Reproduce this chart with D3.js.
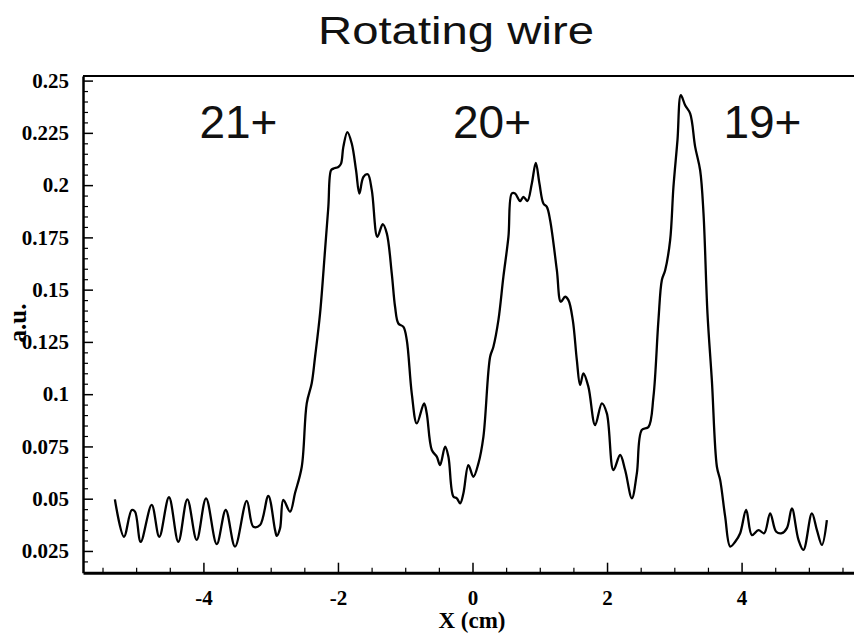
<!DOCTYPE html>
<html>
<head>
<meta charset="utf-8">
<script src="https://cdn.jsdelivr.net/npm/d3@7"></script>
<style>
  html, body { margin: 0; padding: 0; background: #fff; }
  svg { display: block; }
</style>
</head>
<body>
<div id="chart"></div>
<script>
// ---- data ----
const xPos = [
  -5.316, -5.181, -5.066, -5.017, -4.932, -4.769, -4.656, -4.512, -4.373, -4.239,
  -4.100, -3.961, -3.802, -3.668, -3.530, -3.356, -3.258, -3.158, -3.035, -2.935,
  -2.910, -2.861, -2.812, -2.712, -2.638, -2.538, -2.464, -2.390, -2.340, -2.266,
  -2.192, -2.143, -2.103, -2.068, -1.994, -1.954, -1.920, -1.860, -1.795, -1.731,
  -1.682, -1.622, -1.557, -1.497, -1.414, -1.334, -1.274, -1.200, -1.151, -1.102,
  -1.027, -0.977, -0.903, -0.828, -0.720, -0.680, -0.605, -0.531, -0.482, -0.407,
  -0.358, -0.284, -0.233, -0.184, -0.135, -0.061, 0.013, 0.088, 0.162, 0.262,
  0.311, 0.385, 0.459, 0.534, 0.584, 0.633, 0.708, 0.757, 0.816, 0.882,
  0.941, 0.995, 1.054, 1.105, 1.154, 1.254, 1.313, 1.377, 1.426, 1.491,
  1.551, 1.600, 1.649, 1.723, 1.823, 1.923, 1.997, 2.095, 2.195, 2.269,
  2.369, 2.443, 2.517, 2.616, 2.690, 2.764, 2.815, 2.864, 2.938, 2.987,
  3.047, 3.097, 3.161, 3.236, 3.310, 3.384, 3.434, 3.493, 3.558, 3.633,
  3.682, 3.756, 3.831, 3.905, 3.979, 4.068, 4.153, 4.251, 4.336, 4.425,
  4.515, 4.599, 4.674, 4.748, 4.846, 4.920, 5.045, 5.120, 5.194, 5.268
];
const signal = [
  0.0497, 0.0318, 0.0446, 0.0438, 0.0294, 0.0470, 0.0318, 0.0507, 0.0294, 0.0497,
  0.0303, 0.0502, 0.0283, 0.0446, 0.0271, 0.0490, 0.0366, 0.0374, 0.0513, 0.0350,
  0.0322, 0.0358, 0.0494, 0.0438, 0.0527, 0.0653, 0.0956, 0.1052, 0.1179, 0.1386,
  0.1689, 0.1896, 0.2071, 0.2079, 0.2087, 0.2103, 0.2183, 0.2254, 0.2199, 0.2071,
  0.1960, 0.2039, 0.2052, 0.1976, 0.1753, 0.1813, 0.1769, 0.1577, 0.1418, 0.1338,
  0.1322, 0.1259, 0.1004, 0.0860, 0.0956, 0.0908, 0.0733, 0.0701, 0.0661, 0.0749,
  0.0701, 0.0510, 0.0502, 0.0478, 0.0526, 0.0661, 0.0605, 0.0669, 0.0796, 0.1179,
  0.1227, 0.1354, 0.1561, 0.1752, 0.1960, 0.1960, 0.1924, 0.1944, 0.1924, 0.2008,
  0.2106, 0.2008, 0.1912, 0.1896, 0.1832, 0.1593, 0.1442, 0.1466, 0.1450, 0.1354,
  0.1163, 0.1044, 0.1099, 0.1035, 0.0852, 0.0956, 0.0908, 0.0637, 0.0709, 0.0637,
  0.0502, 0.0621, 0.0829, 0.0843, 0.0988, 0.1354, 0.1546, 0.1593, 0.1737, 0.1991,
  0.2215, 0.2430, 0.2382, 0.2342, 0.2183, 0.2071, 0.1864, 0.1386, 0.1067, 0.0653,
  0.0589, 0.0414, 0.0271, 0.0294, 0.0335, 0.0446, 0.0326, 0.0350, 0.0335, 0.0430,
  0.0342, 0.0335, 0.0359, 0.0454, 0.0303, 0.0255, 0.0430, 0.0350, 0.0279, 0.0398
];
const xTicks = [-4, -2, 0, 2, 4];
const xTickLabels = ["-4", "-2", "0", "2", "4"];
const yTicks = [0.025, 0.05, 0.075, 0.1, 0.125, 0.15, 0.175, 0.2, 0.225, 0.25];
const yTickLabels = ["0.025", "0.05", "0.075", "0.1", "0.125", "0.15", "0.175", "0.2", "0.225", "0.25"];
const peakLabels = ["21+", "20+", "19+"];
const peakLabelX = [-4.06, -0.29, 3.73];
const peakLabelY = [0.2224, 0.2224, 0.2224];
const titleText = "Rotating wire";
const xTitle = "X (cm)";
const yTitle = "a.u.";

// ---- layout ----
const W = 854, H = 635;
const mLeft = 83, mRight = 862, mTop = 76, mBottom = 572.7;

const svg = d3.select("#chart").append("svg")
  .attr("width", W).attr("height", H);

const x = d3.scaleLinear().domain([-5.79, 5.79]).range([mLeft, mRight]);
const y = d3.scaleLinear().domain([0.0146, 0.2522]).range([mBottom, mTop]);

const serif = "'Liberation Serif', 'Times New Roman', serif";
const sans = "'Liberation Sans', Arial, sans-serif";

// title
svg.append("text")
  .attr("x", 456).attr("y", 44)
  .attr("text-anchor", "middle")
  .attr("font-family", sans).attr("font-size", 38)
  .attr("fill", "#111")
  .attr("textLength", 276).attr("lengthAdjust", "spacingAndGlyphs")
  .text(titleText);

// minor ticks
const yMinor = d3.range(0.02, 0.2521, 0.005).filter(v => Math.abs(Math.round(v / 0.025) * 0.025 - v) > 1e-6);
const xMinor = d3.range(-5.5, 5.51, 0.5).filter(v => Math.abs(Math.round(v / 2) * 2 - v) > 1e-6);

svg.append("g").attr("transform", `translate(${mLeft},0)`)
  .call(d3.axisLeft(y).tickValues(yMinor).tickSize(-5).tickFormat(""))
  .call(g => g.select(".domain").remove())
  .call(g => g.selectAll("line").attr("stroke", "#000").attr("stroke-width", 1.2));

svg.append("g").attr("transform", `translate(0,${mBottom})`)
  .call(d3.axisBottom(x).tickValues(xMinor).tickSize(-5).tickFormat(""))
  .call(g => g.select(".domain").remove())
  .call(g => g.selectAll("line").attr("stroke", "#000").attr("stroke-width", 1.2));

// major y axis
svg.append("g").attr("transform", `translate(${mLeft},0)`)
  .call(d3.axisLeft(y).tickValues(yTicks).tickSize(-10).tickPadding(14)
    .tickFormat((d, i) => yTickLabels[i]).tickSizeOuter(0))
  .call(g => g.select(".domain").attr("stroke", "#000").attr("stroke-width", 2.5))
  .call(g => g.selectAll(".tick line").attr("stroke", "#000").attr("stroke-width", 1.5))
  .call(g => g.selectAll("text").attr("font-family", serif).attr("font-weight", "bold")
    .attr("font-size", 21).attr("fill", "#000"));

// major x axis
svg.append("g").attr("transform", `translate(0,${mBottom})`)
  .call(d3.axisBottom(x).tickValues(xTicks).tickSize(-10).tickPadding(17)
    .tickFormat((d, i) => xTickLabels[i]).tickSizeOuter(0))
  .call(g => g.select(".domain").attr("stroke", "#000").attr("stroke-width", 3))
  .call(g => g.selectAll(".tick line").attr("stroke", "#000").attr("stroke-width", 1.5))
  .call(g => g.selectAll("text").attr("font-family", serif).attr("font-weight", "bold")
    .attr("font-size", 21).attr("fill", "#000"));

// top frame line
svg.append("line")
  .attr("x1", mLeft).attr("x2", mRight).attr("y1", mTop).attr("y2", mTop)
  .attr("stroke", "#000").attr("stroke-width", 2);

// axis titles
svg.append("text")
  .attr("x", 472).attr("y", 628)
  .attr("text-anchor", "middle")
  .attr("font-family", serif).attr("font-weight", "bold").attr("font-size", 23)
  .text(xTitle);

svg.append("text")
  .attr("transform", "translate(26,323) rotate(-90)")
  .attr("text-anchor", "middle")
  .attr("font-family", serif).attr("font-weight", "bold").attr("font-size", 25)
  .text(yTitle);

// curve
const pts = xPos.map((v, i) => [v, signal[i]]);
svg.append("path")
  .datum(pts)
  .attr("fill", "none")
  .attr("stroke", "#000")
  .attr("stroke-width", 2.3)
  .attr("stroke-linejoin", "round")
  .attr("d", d3.line().x(d => x(d[0])).y(d => y(d[1])).curve(d3.curveCatmullRom.alpha(0.5)));

// peak labels
svg.selectAll(".peak").data(peakLabels).enter().append("text")
  .attr("class", "peak")
  .attr("x", (d, i) => x(peakLabelX[i]))
  .attr("y", (d, i) => y(peakLabelY[i]))
  .attr("font-family", sans).attr("font-size", 46)
  .attr("fill", "#111")
  .text(d => d);
</script>
</body>
</html>
